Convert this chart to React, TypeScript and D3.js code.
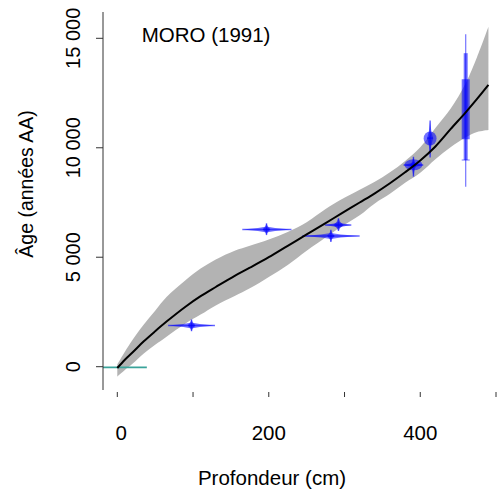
import React from "react";
import * as d3 from "d3";

// Age-depth model (depth in cm, age in years BP)
const modelDepth = [0, 10, 20, 35, 50, 65, 90, 110, 130, 155, 175, 200, 225, 250, 275, 295, 320, 340, 360, 380, 400, 420, 440, 460, 475, 490];
const modelMean = [-60, 320, 650, 1160, 1620, 2060, 2740, 3220, 3640, 4150, 4520, 5000, 5520, 6040, 6560, 6980, 7500, 7920, 8380, 8880, 9420, 10060, 10850, 11620, 12230, 12870];
const modelUpper = [100, 680, 1220, 1930, 2560, 3180, 3950, 4480, 4900, 5300, 5530, 5810, 6150, 6600, 7200, 7620, 8080, 8450, 8880, 9400, 10020, 10900, 11780, 12950, 14150, 15530];
const modelLower = [-450, -150, 130, 600, 1000, 1370, 1970, 2380, 2800, 3230, 3580, 4100, 4650, 5300, 5900, 6380, 6920, 7460, 7900, 8400, 8860, 9480, 10020, 10480, 10720, 10813];

// Dated levels
const dateDepth = [98, 197, 282, 292, 391, 413];
const dateDepthMin = [67, 165, 244, 274, 378, 413];
const dateDepthMax = [129, 230, 320, 309, 404, 413];
const dateAge = [1880, 6270, 5970, 6470, 9210, 10440];
const dateAgeMin = [1620, 6010, 5700, 6200, 8680, 9560];
const dateAgeMax = [2160, 6550, 6260, 6780, 9590, 11250];
const dateWidth = [4, 4, 4, 5, 3, 3];
const blobRx = [0, 0, 0, 0, 9, 6.5];
const blobRy = [0, 0, 0, 0, 5.5, 7];
const blobAge = [0, 0, 0, 0, 9220, 10420];

// Long uncertain date at base
const baseDepth = 460;
const baseAgeOuter = [8220, 15190];
const baseAgeInner = [9440, 14320];
const baseAgeBox = [10390, 13130];

// Surface
const surfaceDepth = [-25, 39];
const surfaceAge = -30;

const xTicks = [0, 100, 200, 300, 400, 500];
const xTickLabels = ["0", "", "200", "", "400", ""];
const yTicks = [0, 5000, 10000, 15000];
const yTickLabels = ["0", "5 000", "10 000", "15 000"];

const W = 499;
const H = 495;
const FONT = "'Liberation Sans', Arial, Helvetica, sans-serif";

export default function App() {
  const x = d3.scaleLinear().domain([0, 500]).range([117.3, 496]);
  const y = d3.scaleLinear().domain([0, 15000]).range([366.7, 38.3]);
  const plotL = 103, plotT = 12, plotB = 390, plotR = 499;

  const idx = modelDepth.map((_, i) => i);
  const area = d3
    .area<number>()
    .x((i) => x(modelDepth[i]))
    .y0((i) => y(modelLower[i]))
    .y1((i) => y(modelUpper[i]))
    .curve(d3.curveCatmullRom);
  const line = d3
    .line<number>()
    .x((i) => x(modelDepth[i]))
    .y((i) => y(modelMean[i]))
    .curve(d3.curveCatmullRom);

  const blue = "rgba(0,0,255,0.55)";

  return (
    <svg width={W} height={H} style={{ position: "absolute", left: 0, top: 0, background: "#fff" }}>
      <defs>
        <clipPath id="plot">
          <rect x={plotL} y={plotT} width={plotR - plotL} height={plotB - plotT} />
        </clipPath>
      </defs>
      <g clipPath="url(#plot)">
        <path d={area(idx) || ""} fill="#b3b3b3" stroke="none" />
        <line
          x1={x(surfaceDepth[0])}
          x2={x(surfaceDepth[1])}
          y1={y(surfaceAge)}
          y2={y(surfaceAge)}
          stroke="#3aa39a"
          strokeWidth={1.6}
        />
        {dateDepth.map((d, i) => {
          const cx = x(d);
          const cy = y(dateAge[i]);
          const x0 = x(dateDepthMin[i]);
          const x1 = x(dateDepthMax[i]);
          const yTop = y(dateAgeMax[i]);
          const yBot = y(dateAgeMin[i]);
          const w = dateWidth[i];
          const hw = (x1 - x0) / 2;
          return (
            <g key={i}>
              {x1 > x0 && (
                <>
                  <path
                    d={`M${x0},${cy} L${cx - hw * 0.35},${cy - 1.5} L${cx},${cy - 3} L${cx + hw * 0.35},${cy - 1.5} L${x1},${cy} L${cx + hw * 0.35},${cy + 1.5} L${cx},${cy + 3} L${cx - hw * 0.35},${cy + 1.5} Z`}
                    fill={blue}
                  />
                  <line x1={x0} x2={x1} y1={cy} y2={cy} stroke={blue} strokeWidth={1.5} />
                </>
              )}
              {blobRx[i] > 0 && (
                <ellipse cx={cx} cy={y(blobAge[i])} rx={blobRx[i]} ry={blobRy[i]} fill={blue} />
              )}
              <path
                d={`M${cx},${yTop} L${cx - w * 0.4},${cy - (cy - yTop) * 0.4} L${cx - w},${cy} L${cx - w * 0.4},${cy + (yBot - cy) * 0.4} L${cx},${yBot} L${cx + w * 0.4},${cy + (yBot - cy) * 0.4} L${cx + w},${cy} L${cx + w * 0.4},${cy - (cy - yTop) * 0.4} Z`}
                fill={blue}
              />
              <line x1={cx} x2={cx} y1={yTop} y2={yBot} stroke={blue} strokeWidth={1.5} />
              <line x1={cx - 3} x2={cx + 3} y1={cy} y2={cy} stroke={blue} strokeWidth={1.5} />
            </g>
          );
        })}
        <g>
          <line
            x1={x(baseDepth)}
            x2={x(baseDepth)}
            y1={y(baseAgeOuter[1])}
            y2={y(baseAgeOuter[0])}
            stroke={blue}
            strokeWidth={1.2}
          />
          <rect
            x={x(baseDepth) - 2}
            width={4}
            y={y(baseAgeInner[1])}
            height={y(baseAgeInner[0]) - y(baseAgeInner[1])}
            fill={blue}
          />
          <rect
            x={x(baseDepth) - 4}
            width={8}
            y={y(baseAgeBox[1])}
            height={y(baseAgeBox[0]) - y(baseAgeBox[1])}
            fill={blue}
          />
          <line
            x1={x(baseDepth) - 4}
            x2={x(baseDepth) + 4}
            y1={y(baseAgeInner[0])}
            y2={y(baseAgeInner[0])}
            stroke={blue}
            strokeWidth={1}
          />
        </g>
        <path d={line(idx) || ""} fill="none" stroke="#000" strokeWidth={2} />
      </g>

      {/* y axis */}
      <line x1={plotL} x2={plotL} y1={plotT} y2={plotB} stroke="#333" strokeWidth={1} />
      {yTicks.map((t, i) => (
        <g key={t}>
          <line x1={96} x2={plotL} y1={y(t)} y2={y(t)} stroke="#333" strokeWidth={1} />
          <text
            transform={`translate(80,${y(t)}) rotate(-90)`}
            textAnchor="middle"
            fontFamily={FONT}
            fontSize={20}
            fill="#000"
          >
            {yTickLabels[i]}
          </text>
        </g>
      ))}
      {/* x axis ticks */}
      {xTicks.map((t, i) => (
        <g key={t}>
          <line x1={x(t)} x2={x(t)} y1={392} y2={397} stroke="#333" strokeWidth={1} />
          {xTickLabels[i] && (
            <text x={x(t) + (t === 0 ? 4 : 0)} y={440} textAnchor="middle" fontFamily={FONT} fontSize={20.5} fill="#000">
              {xTickLabels[i]}
            </text>
          )}
        </g>
      ))}
      <text x={272} y={485} textAnchor="middle" fontFamily={FONT} fontSize={20.5} fill="#000">
        Profondeur (cm)
      </text>
      <text
        transform={`translate(33,184) rotate(-90)`}
        textAnchor="middle"
        fontFamily={FONT}
        fontSize={19.5}
        fill="#000"
      >
        Âge (années AA)
      </text>
      <text x={141.7} y={41.7} fontFamily={FONT} fontSize={20.5} fill="#000">
        MORO (1991)
      </text>
    </svg>
  );
}
